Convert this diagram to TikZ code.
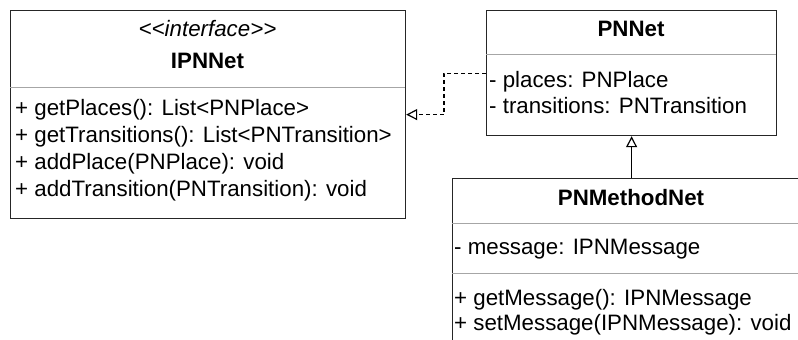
\documentclass[tikz,border=0pt]{standalone}
\usepackage{fontspec}
\setmainfont{Liberation Sans}
\usetikzlibrary{arrows.meta}
\tikzset{
  classbox/.style={draw=black!85, line width=1.2pt, inner sep=0pt, anchor=north west},
  sepline/.style={draw=black!35, line width=0.9pt},
  member/.style={anchor=base west, inner sep=0pt, font=\fontsize{22.3}{26}\selectfont},
  title/.style={anchor=base, inner sep=0pt, font=\fontsize{22.3}{26}\selectfont\bfseries},
  stereo/.style={anchor=base, inner sep=0pt, font=\fontsize{22.3}{26}\selectfont\itshape},
  realize/.style={draw=black, line width=1.2pt, dash pattern=on 4pt off 3pt, -{Triangle[open, length=11pt, width=11pt]}},
  inherit/.style={draw=black, line width=1.2pt, -{Triangle[open, length=11pt, width=11pt]}}
}
\begin{document}
\begin{tikzpicture}[x=1pt, y=-1pt]
\useasboundingbox (0,0) rectangle (798,340);
\clip (0,0) rectangle (798,340);
% IPNNet
\node[classbox, minimum width=395pt, minimum height=208pt] (ipn) at (10,10) {};
\draw[sepline] (10,87) -- (405,87);
\node[stereo] (ipnst) at (207.5,36) {{<}{<}interface{>}{>}};
\node[title] (ipnt) at (207.5,68) {IPNNet};
\node[member] (m1) at (15,115) {+ getPlaces(): List<PNPlace>};
\node[member] (m2) at (15,142) {+ getTransitions(): List<PNTransition>};
\node[member] (m3) at (15,169) {+ addPlace(PNPlace): void};
\node[member] (m4) at (15,196) {+ addTransition(PNTransition): void};
% PNNet
\node[classbox, minimum width=290pt, minimum height=125pt] (pn) at (486,10) {};
\draw[sepline] (486,54) -- (776,54);
\node[title] (pnt) at (631,36) {PNNet};
\node[member] (p1) at (489,87) {- places: PNPlace};
\node[member] (p2) at (489,113) {- transitions: PNTransition};
% PNMethodNet
\node[classbox, minimum width=370pt, minimum height=180pt] (pm) at (452,178) {};
\draw[sepline] (452,223) -- (830,223);
\draw[sepline] (452,273) -- (830,273);
\node[title] (pmt) at (631,205) {PNMethodNet};
\node[member] (q1) at (454,254) {- message: IPNMessage};
\node[member] (q2) at (454,305) {+ getMessage(): IPNMessage};
\node[member] (q3) at (454,330) {+ setMessage(IPNMessage): void};
% connectors
\draw[realize] (pn.west) -- ++(-42,0) |- (ipn.east);
\draw[inherit] (pm.north -| pn.south) -- (pn.south);
\end{tikzpicture}
\end{document}
